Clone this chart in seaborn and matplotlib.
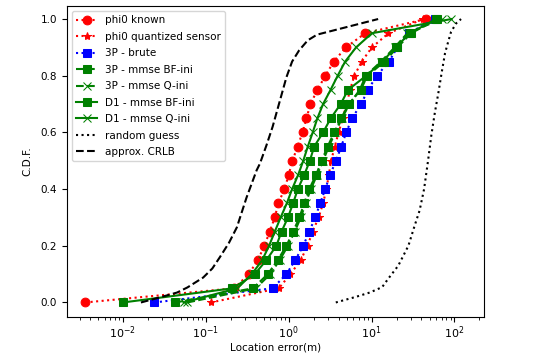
import matplotlib
matplotlib.use("Agg")
import pandas as pd
import seaborn as sns
import matplotlib.pyplot as plt

# CDF levels shared by the estimator curves
levels = [0.0, 0.05, 0.1, 0.15, 0.2, 0.25, 0.3, 0.35, 0.4, 0.45, 0.5,
          0.55, 0.6, 0.65, 0.7, 0.75, 0.8, 0.85, 0.9, 0.95, 1.0]

phi0_known = [0.0035, 0.22, 0.33, 0.425, 0.51, 0.59, 0.68, 0.75, 0.89, 1.0, 1.11,
              1.28, 1.47, 1.64, 1.83, 2.22, 2.77, 3.5, 4.9, 8.4, 45]
phi0_quant = [0.115, 0.76, 1.05, 1.4, 1.69, 1.94, 2.3, 2.6, 2.85, 3.05, 3.25,
              3.6, 4.0, 4.5, 5.0, 5.5, 6.2, 7.6, 10.1, 16, 42]
brute_3p = [0.024, 0.64, 0.94, 1.2, 1.5, 1.77, 2.09, 2.4, 2.76, 3.15, 3.73,
            4.3, 4.95, 5.8, 7.5, 9.0, 11.6, 16.2, 20.5, 28, 58]
bf_3p = [0.043, 0.37, 0.56, 0.74, 0.94, 1.13, 1.35, 1.54, 1.77, 2.14, 2.5,
         2.95, 3.55, 4.3, 5.3, 7.4, 8.9, 14.3, 20.5, 30, 62]
q_3p = [0.06, 0.4, 0.6, 0.78, 0.98, 1.18, 1.4, 1.6, 1.85, 2.2, 2.6,
        3.05, 3.65, 4.4, 5.4, 7.2, 8.5, 13, 19, 27, 70]
bf_d1 = [0.01, 0.21, 0.39, 0.54, 0.71, 0.82, 0.98, 1.13, 1.29, 1.54, 1.8,
         2.03, 2.6, 3.22, 4.24, 5.2, 8.6, 13.5, 19.5, 29, 60]
q_d1 = [0.054, 0.24, 0.36, 0.48, 0.58, 0.68, 0.8, 0.95, 1.1, 1.3, 1.5,
        1.7, 1.95, 2.22, 2.6, 3.2, 3.9, 4.8, 6.5, 10.1, 92]

random_err = [3.7, 6.5, 9.5, 13.4, 16, 21, 27.8, 33, 38, 43, 48, 52.6, 58, 64,
              70, 77, 84, 91, 105, 120]
random_cdf = [0.0, 0.02, 0.035, 0.054, 0.085, 0.13, 0.2, 0.27, 0.325, 0.4, 0.5,
              0.59, 0.67, 0.74, 0.81, 0.88, 0.92, 0.955, 0.985, 1.0]

crlb_err = [0.0165, 0.028, 0.045, 0.06, 0.093, 0.12, 0.148, 0.19, 0.237, 0.31,
            0.41, 0.45, 0.54, 0.64, 0.78, 0.94, 1.1, 1.34, 1.7, 2.2, 12]
crlb_cdf = [0.0, 0.018, 0.035, 0.053, 0.088, 0.12, 0.16, 0.21, 0.265, 0.37,
            0.466, 0.49, 0.555, 0.62, 0.71, 0.795, 0.85, 0.89, 0.925, 0.945, 1.0]

plt.rcParams["mathtext.fontset"] = "cm"
plt.rcParams["font.size"] = 7.5

fig = plt.figure(figsize=(5.38, 3.53), dpi=100)
ax = fig.add_axes([0.124, 0.103, 0.775, 0.88])

series = [
    (phi0_known, "phi0 known", "r", ":", "o", 6.3),
    (phi0_quant, "phi0 quantized sensor", "r", ":", "*", 6),
    (brute_3p, "3P - brute", "b", ":", "s", 6.3),
    (bf_3p, "3P - mmse BF-ini", "g", "--", "s", 6.3),
    (q_3p, "3P - mmse Q-ini", "g", "--", "x", 6.3),
    (bf_d1, "D1 - mmse BF-ini", "g", "-", "s", 6.3),
    (q_d1, "D1 - mmse Q-ini", "g", "-", "x", 6.3),
]
for err, label, c, ls, mk, ms in series:
    df = pd.DataFrame({"err": err, "cdf": levels})
    sns.lineplot(x="err", y="cdf", data=df, ax=ax, color=c, linestyle=ls,
                 marker=mk, markersize=ms, markeredgecolor=c, label=label,
                 sort=False, estimator=None, linewidth=1.5)

df = pd.DataFrame({"err": random_err, "cdf": random_cdf})
sns.lineplot(x="err", y="cdf", data=df, ax=ax, color="k", linestyle=":",
             label="random guess", sort=False, estimator=None, linewidth=1.5)
df = pd.DataFrame({"err": crlb_err, "cdf": crlb_cdf})
sns.lineplot(x="err", y="cdf", data=df, ax=ax, color="k", linestyle="--",
             label="approx. CRLB", sort=False, estimator=None, linewidth=1.5)

ax.set_xscale("log")
ax.set_xlim(0.0021, 225)
ax.set_ylim(-0.05, 1.046)
ax.set_yticks([0.0, 0.2, 0.4, 0.6, 0.8, 1.0])
ax.tick_params(axis="x", labelsize=8, pad=2)
ax.set_xlabel("Location error(m)", labelpad=1)
ax.set_ylabel("C.D.F.", labelpad=6)
ax.legend(loc="upper left", fontsize=7.5, labelspacing=0.62)

fig.savefig("out.png", dpi=100)
